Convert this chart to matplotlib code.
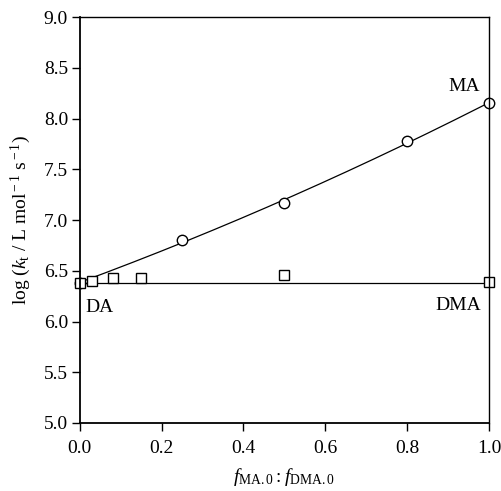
import matplotlib
matplotlib.use("Agg")
import matplotlib.pyplot as plt
import numpy as np

plt.rcParams['font.family'] = ['Liberation Serif', 'DejaVu Serif']
plt.rcParams['mathtext.fontset'] = 'custom'
plt.rcParams['mathtext.rm'] = 'Liberation Serif'
plt.rcParams['mathtext.it'] = 'Liberation Serif:italic'

ma_x = [0.0, 0.25, 0.5, 0.8, 1.0]
ma_y = [6.38, 6.80, 7.17, 7.78, 8.15]
dma_x = [0.0, 0.03, 0.08, 0.15, 0.5, 1.0]
dma_y = [6.38, 6.40, 6.43, 6.43, 6.46, 6.39]
dma_level = 6.38

fig = plt.figure(figsize=(5.02, 4.91), dpi=100)
ax = fig.add_axes([0.159, 0.1385, 0.815, 0.8265])

coef = np.polyfit(ma_x, ma_y, 2)
xf = np.linspace(0, 1, 200)
ax.plot(xf, np.polyval(coef, xf), color='black', lw=0.9)
ax.plot([0, 1], [dma_level, dma_level], color='black', lw=0.9)

ax.plot(ma_x, ma_y, 'o', mfc='white', mec='black', ms=7.5, mew=1.0, clip_on=False)
ax.plot(dma_x, dma_y, 's', mfc='white', mec='black', ms=7, mew=1.0, clip_on=False)

ax.text(0.94, 8.32, 'MA', ha='center', va='center', fontsize=14)
ax.text(0.048, 6.14, 'DA', ha='center', va='center', fontsize=14)
ax.text(0.925, 6.16, 'DMA', ha='center', va='center', fontsize=14)

ax.set_xlim(0, 1.0)
ax.set_ylim(5.0, 9.0)
ax.set_xticks([0.0, 0.2, 0.4, 0.6, 0.8, 1.0])
ax.set_yticks([5.0, 5.5, 6.0, 6.5, 7.0, 7.5, 8.0, 8.5, 9.0])
ax.set_xticklabels(['0.0', '0.2', '0.4', '0.6', '0.8', '1.0'])
ax.set_yticklabels(['5.0', '5.5', '6.0', '6.5', '7.0', '7.5', '8.0', '8.5', '9.0'])
ax.tick_params(direction='out', length=5.5, width=1, labelsize=14)
ax.tick_params(axis='x', pad=7)
ax.tick_params(axis='y', pad=3)
for s in ax.spines.values():
    s.set_linewidth(1.0)
ax.spines['left'].set_linewidth(1.3)
ax.spines['bottom'].set_linewidth(1.3)

ax.set_ylabel(r'log ($k_{\rm t}$ / L mol$^{\rm -1}$ s$^{\rm -1}$)', fontsize=14, labelpad=8)
ax.set_xlabel(r'$f_{\rm MA.0}:f_{\rm DMA.0}$', fontsize=14, labelpad=6)

fig.savefig('out.png', dpi=100)
